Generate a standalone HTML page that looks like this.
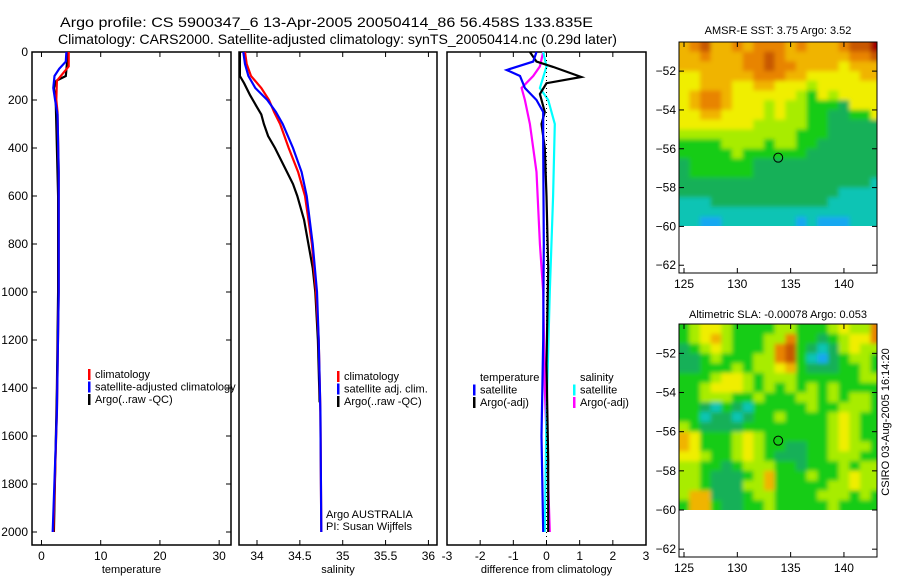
<!DOCTYPE html>
<html><head><meta charset="utf-8">
<style>
html,body{margin:0;padding:0;background:#fff;}
svg{display:block;font-family:"Liberation Sans",sans-serif;}
text{fill:#000;}
</style></head>
<body>
<svg id="fig" width="900" height="580" viewBox="0 0 900 580" xmlns="http://www.w3.org/2000/svg">
<defs>
<filter id="soft" x="-5%" y="-5%" width="110%" height="110%"><feGaussianBlur stdDeviation="2.2"/></filter>
<clipPath id="clip0"><rect x="679" y="42" width="198" height="184"/></clipPath>
<clipPath id="clip1"><rect x="679" y="324" width="198" height="186"/></clipPath>
</defs>
<rect x="0" y="0" width="900" height="580" fill="#fff"/>
<text x="60" y="27" font-size="14" textLength="533" lengthAdjust="spacingAndGlyphs">Argo profile: CS 5900347_6 13-Apr-2005 20050414_86 56.458S 133.835E</text>
<text x="58" y="44" font-size="14" textLength="559" lengthAdjust="spacingAndGlyphs">Climatology: CARS2000. Satellite-adjusted climatology: synTS_20050414.nc (0.29d later)</text>
<g id="layer"></g>
</svg>
<script>
// ---------- DATA ----------
const depthTicks=[0,200,400,600,800,1000,1200,1400,1600,1800,2000];
const tempTicks=[0,10,20,30];
const salTicks=[34,34.5,35,35.5,36];
const diffTicks=[-3,-2,-1,0,1,2,3];
const latTicks=[-52,-54,-56,-58,-60,-62];
const lonTicks=[125,130,135,140];

const tempClimDepth=[0,60,90,120,200,250,500,1000,1500,2000];
const tempClimVal=[4.6,4.6,3.6,2.6,2.5,2.7,2.9,2.9,2.6,2.0];
const tempSatDepth=[0,40,70,100,150,200,260,500,1000,1500,2000];
const tempSatVal=[4.2,4.1,3.0,2.2,2.0,2.3,2.7,2.9,2.9,2.6,1.9];
const tempArgoDepth=[0,50,100,120,150,200,400,600,1000,1400,2000];
const tempArgoVal=[4.3,4.3,4.1,2.5,2.1,2.4,2.6,2.8,2.8,2.6,2.1];

const salClimDepth=[0,50,100,150,200,250,300,400,500,600,800,1000,1200,1500,2000];
const salClimVal=[33.86,33.88,33.93,34.05,34.14,34.20,34.27,34.37,34.48,34.56,34.64,34.69,34.72,34.74,34.75];
const salSatDepth=[0,50,100,150,200,250,300,400,500,600,800,1000,1200,1500,2000];
const salSatVal=[33.84,33.86,33.90,33.98,34.12,34.22,34.30,34.42,34.52,34.58,34.65,34.70,34.72,34.74,34.75];
const salArgoDepth=[0,100,130,180,230,260,300,350,400,450,500,550,600,700,800,900,1000,1200,1460];
const salArgoVal=[33.80,33.80,33.85,33.92,34.00,34.05,34.08,34.13,34.21,34.28,34.35,34.42,34.47,34.55,34.60,34.65,34.68,34.71,34.73];

const dTempSatDepth=[0,40,75,100,150,200,250,400,800,1200,1600,2000];
const dTempSatVal=[-0.3,-0.4,-1.2,-0.8,-0.65,-0.3,-0.1,-0.1,-0.08,-0.1,-0.15,-0.1];
const dTempArgoDepth=[0,40,62,104,130,175,250,300,400,600,900,1300,1700,2000];
const dTempArgoVal=[-0.5,-0.3,0.2,1.05,0.0,-0.2,-0.05,-0.15,-0.05,0.0,0.05,0.0,0.05,0.05];
const dSalSatDepth=[0,60,150,200,300,600,1000,1500,2000];
const dSalSatVal=[-0.1,0.0,-0.2,0.05,0.25,0.2,0.1,0.0,-0.05];
const dSalArgoDepth=[0,60,100,150,200,300,500,800,1000,1400,1800,2000];
const dSalArgoVal=[-0.1,-0.2,-0.4,-0.75,-0.65,-0.5,-0.3,-0.2,-0.1,-0.05,0.05,0.1];

const mapLon0=124.5, mapLat0=-50.5;
const sstGrid=[
"6786676777676667889",
"6676667787666666778",
"6666667787766665666",
"5566666777665555566",
"5566655665554555555",
"5677655555543545555",
"5677655545443332555",
"5566555545443322335",
"5555555444443322222",
"4444444444433322222",
"3333444434433222222",
"3333343333332222222",
"2333333222222222222",
"2333333222222222222",
"2222222222222222221",
"2222222222222221111",
"1112222222222211111",
"1111111111111111111",
"1100111111101000111"];
const slaGrid=[
"3455433334433345447",
"3456433344733234557",
"2345433347832124544",
"2234333447831023443",
"2233343445632223343",
"3334554344433333344",
"3345554343434343333",
"3344433433344343443",
"3321321333334334443",
"3312212334333345433",
"4322223333333345433",
"6533345433333345433",
"6533345433223345443",
"5543345432223344433",
"4433234443323334344",
"4432223463334334544",
"4432224463333344544",
"4662223443333444343",
"3663223343333343333"];
const colorCodes=["#18a8f0","#10c4b4","#14b058","#14cc18","#a8ec00","#f0ee00","#f0b400","#e88400","#c85800","#a40000"];

// ---------- DRAW ----------
const NS="http://www.w3.org/2000/svg";
const layer=document.getElementById('layer');
function mk(tag,attrs,parent){const e=document.createElementNS(NS,tag);for(const k in attrs)e.setAttribute(k,attrs[k]);(parent||layer).appendChild(e);return e;}
const Y0=52, PXD=0.24, YB=545;
function yD(d){return Y0+d*PXD;}
function lin(d0,d1,p0,p1){return v=>p0+(v-d0)*(p1-p0)/(d1-d0);}
const panels=[
 {name:'temperature',x0:32,x1:231,sx:lin(-1.6,32,32,231),ticks:tempTicks,label:'temperature'},
 {name:'salinity',x0:239,x1:437,sx:lin(33.79,36.1,239,437),ticks:salTicks,label:'salinity'},
 {name:'difference',x0:447,x1:646,sx:lin(-3,3,447,646),ticks:diffTicks,label:'difference from climatology'}];

panels.forEach((p,i)=>{
  const g=mk('g',{});
  
  
  const f=mk('rect',{x:p.x0,y:Y0,width:p.x1-p.x0,height:YB-Y0,fill:'none',stroke:'#000','stroke-width':1.5},g);
  
  
  p.ticks.forEach(t=>{
    const x=p.sx(t);
    if(x>p.x0+2&&x<p.x1-2){
      mk('line',{x1:x,x2:x,y1:YB,y2:YB-5,stroke:'#000'},g);
      mk('line',{x1:x,x2:x,y1:Y0,y2:Y0+5,stroke:'#000'},g);
    }
    const tl=mk('text',{x:x,y:560,'font-size':12,'text-anchor':'middle'},g);
    tl.textContent=String(t);
    
    
  });
  const al=mk('text',{x:(p.x0+p.x1)/2,y:573,'font-size':11,'text-anchor':'middle'},g);
  al.textContent=p.label;
  
  
  p.g=g;
});
depthTicks.forEach(d=>{
  const y=yD(d);
  mk('line',{x1:32,x2:37,y1:y,y2:y,stroke:'#000'});
  mk('line',{x1:226,x2:231,y1:y,y2:y,stroke:'#000'});
  const t=mk('text',{x:28,y:y+4,'font-size':12,'text-anchor':'end'});
  t.textContent=String(d);
  
  
});
const zl=mk('line',{x1:panels[2].sx(0),x2:panels[2].sx(0),y1:Y0,y2:YB,stroke:'#000','stroke-dasharray':'1,3'});



function drawLine(p,depths,vals,color,name){
  const pts=depths.map((d,i)=>p.sx(vals[i]).toFixed(1)+','+yD(d).toFixed(1)).join(' ');
  const pl=mk('polyline',{points:pts,fill:'none',stroke:color,'stroke-width':2.2},p.g);
  
  
}
drawLine(panels[0],tempArgoDepth,tempArgoVal,'#000','temp-argo-line');
drawLine(panels[0],tempClimDepth,tempClimVal,'#f00','temp-climatology-line');
drawLine(panels[0],tempSatDepth,tempSatVal,'#00f','temp-satellite-line');
drawLine(panels[1],salArgoDepth,salArgoVal,'#000','salinity-argo-line');
drawLine(panels[1],salClimDepth,salClimVal,'#f00','salinity-climatology-line');
drawLine(panels[1],salSatDepth,salSatVal,'#00f','salinity-satellite-line');
drawLine(panels[2],dSalArgoDepth,dSalArgoVal,'#f0f','diff-salinity-argo-line');
drawLine(panels[2],dSalSatDepth,dSalSatVal,'#0ff','diff-salinity-satellite-line');
drawLine(panels[2],dTempArgoDepth,dTempArgoVal,'#000','diff-temp-argo-line');
drawLine(panels[2],dTempSatDepth,dTempSatVal,'#00f','diff-temp-satellite-line');

function legend(x,y,items,name){
  const g=mk('g',{});
  
  
  items.forEach((it,i)=>{
    const yy=y+i*12.5;
    if(it[1]){const r=mk('rect',{x:x,y:yy-9,width:2.5,height:11,fill:it[1]},g);
      
      }
    const t=mk('text',{x:x+7,y:yy,'font-size':11},g);
    t.textContent=it[0];
    
    
  });
}
legend(88,378,[['climatology','#f00'],['satellite-adjusted climatology','#00f'],['Argo(..raw -QC)','#000']],'temperature-legend');
legend(337,380,[['climatology','#f00'],['satellite adj. clim.','#00f'],['Argo(..raw -QC)','#000']],'salinity-legend');
legend(473,381,[['temperature',null],['satellite','#00f'],['Argo(-adj)','#000']],'diff-temperature-legend');
legend(573,381,[['salinity',null],['satellite','#0ff'],['Argo(-adj)','#f0f']],'diff-salinity-legend');
const a1=mk('text',{x:326,y:518,'font-size':11});a1.textContent='Argo AUSTRALIA';


const a2=mk('text',{x:326,y:530,'font-size':11});a2.textContent='PI: Susan Wijffels';



const maps=[
 {name:'sst-map',top:42,bot:273,title:'AMSR-E SST: 3.75 Argo: 3.52',grid:sstGrid,ty:34,clip:'clip0'},
 {name:'sla-map',top:324,bot:557,title:'Altimetric SLA: -0.00078 Argo: 0.053',grid:slaGrid,ty:318,clip:'clip1'}];
maps.forEach(m=>{
  const g=mk('g',{});
  
  
  const sx=lin(124.53,143.1,679,877);
  const sy=lin(-50.5,-62.4,m.top,m.bot);
  const cg=mk('g',{'clip-path':'url(#'+m.clip+')'},g);
  
  
  const bg=mk('g',{filter:'url(#soft)'},cg);
  m.grid.forEach((row,r)=>{
    for(let c=0;c<row.length;c++){
      const lon=mapLon0+c, lat=mapLat0-r*0.5;
      const x=sx(lon)-(c===0?4:0), x2=sx(lon+1)+(c===row.length-1?4:0);
      const y=sy(lat)-(r===0?6:0), y2=sy(lat-0.5)+(r===m.grid.length-1?4:0);
      const cell=mk('rect',{x:x.toFixed(1),y:y.toFixed(1),width:(x2-x+0.6).toFixed(1),height:(y2-y+0.6).toFixed(1),fill:colorCodes[+row[c]]},bg);
      
      
    }
  });
  const fr=mk('rect',{x:679,y:m.top,width:198,height:m.bot-m.top,fill:'none',stroke:'#000','stroke-width':1},g);
  
  
  latTicks.forEach(l=>{
    const y=sy(l);
    mk('line',{x1:679,x2:684,y1:y,y2:y,stroke:'#000'},g);
    mk('line',{x1:872,x2:877,y1:y,y2:y,stroke:'#000'},g);
    const t=mk('text',{x:676,y:y+4,'font-size':12,'text-anchor':'end'},g);
    t.textContent='\u2212'+String(-l);
    
    
  });
  lonTicks.forEach(l=>{
    const x=sx(l);
    mk('line',{x1:x,x2:x,y1:m.bot,y2:m.bot-5,stroke:'#000'},g);
    mk('line',{x1:x,x2:x,y1:m.top,y2:m.top+5,stroke:'#000'},g);
    const t=mk('text',{x:x,y:m.bot+15,'font-size':12,'text-anchor':'middle'},g);
    t.textContent=String(l);
    
    
  });
  const c=mk('circle',{cx:sx(133.835),cy:sy(-56.458),r:4.5,fill:'none',stroke:'#000','stroke-width':1},g);
  
  
  const tt=mk('text',{x:778,y:m.ty,'font-size':11,'text-anchor':'middle'},g);
  tt.textContent=m.title;
  
  
});
const cs=mk('text',{x:0,y:0,'font-size':11,'text-anchor':'middle',transform:'translate(889,422) rotate(-90)'});
cs.textContent='CSIRO 03-Aug-2005 16:14:20';


</script>
</body></html>
